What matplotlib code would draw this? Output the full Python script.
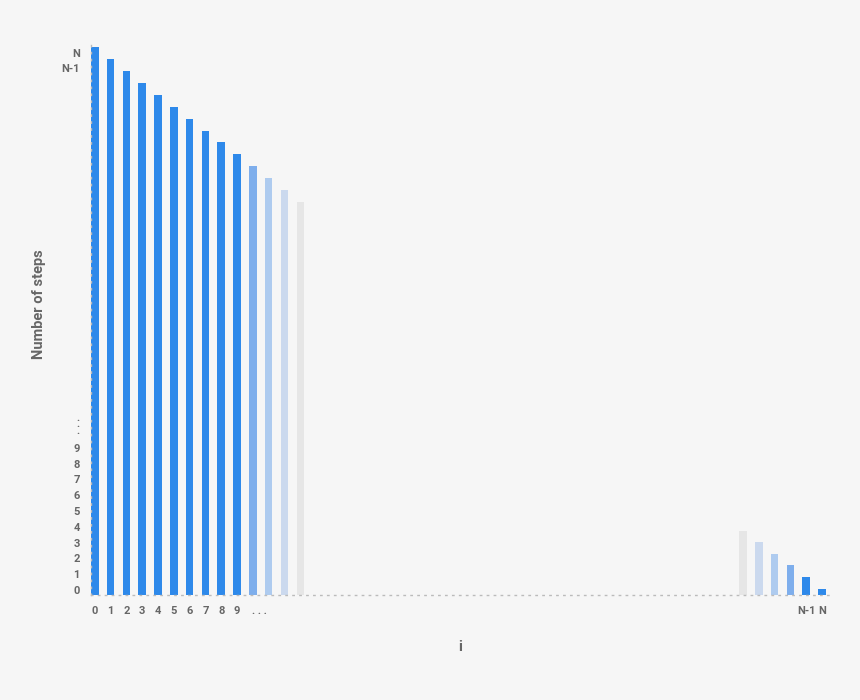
import numpy as np
import matplotlib.pyplot as plt

plt.rcParams['font.family'] = ['Roboto', 'DejaVu Sans']

# bar heights (arbitrary units)
left_slots = list(range(14))
left_steps = [548, 536, 524, 512, 500, 488, 476, 464, 453, 441, 429, 417, 405, 393]
right_slots = [41, 42, 43, 44, 45, 46]
right_steps = [64, 53, 41, 30, 18, 6]

BLUE = '#2e89ea'
left_colors = [BLUE] * 10 + ['#7eaeec', '#aecbef', '#cbd9ee', '#e6e6e6']
right_colors = ['#e6e6e6', '#cbd9ee', '#aecbef', '#7eaeec', BLUE, BLUE]

ytick_pos = [5, 21, 37, 52, 68, 84, 100, 116, 131, 147, 170, 527, 542]
ytick_labels = ['0', '1', '2', '3', '4', '5', '6', '7', '8', '9', '.\n.\n.', 'N-1', 'N']
xtick_pos = [0, 1, 2, 3, 4, 5, 6, 7, 8, 9, 10.4, 45, 46]
xtick_labels = ['0', '1', '2', '3', '4', '5', '6', '7', '8', '9', '. . .', 'N-1', 'N']

BG = '#f6f6f6'
GREY = '#666666'

fig = plt.figure(figsize=(8.6, 7), dpi=100, facecolor=BG)
ax = fig.add_axes([0.1058, 0.15, 0.8593, 0.79])
ax.set_facecolor(BG)

ax.bar(left_slots, left_steps, width=0.48, color=left_colors)
ax.bar(right_slots, right_steps, width=0.48, color=right_colors)

ax.set_xlim(-0.24, 46.5)
ax.set_ylim(0, 553)

ax.set_yticks(ytick_pos)
ax.set_yticklabels(ytick_labels)
ax.set_xticks(xtick_pos)
ax.set_xticklabels(xtick_labels)
ax.tick_params(axis='both', length=0, labelsize=8, labelcolor=GREY)
ax.tick_params(axis='y', pad=8)
ax.tick_params(axis='x', pad=8)
for lab in ax.get_xticklabels() + ax.get_yticklabels():
    lab.set_fontweight('bold')
    lab.set_linespacing(0.6)

for side in ['top', 'right']:
    ax.spines[side].set_visible(False)
for side in ['left', 'bottom']:
    ax.spines[side].set_color('#bbbbbb')
    ax.spines[side].set_linestyle((0, (1, 4)))
    ax.spines[side].set_linewidth(1.0)

ax.set_ylabel('Number of steps', fontsize=10.5, fontweight='bold', color=GREY)
ax.yaxis.set_label_coords(-0.061, 0.526)
ax.set_xlabel('i', fontsize=11, fontweight='bold', color=GREY, labelpad=17)

plt.savefig('out.png', dpi=100, facecolor=BG)
